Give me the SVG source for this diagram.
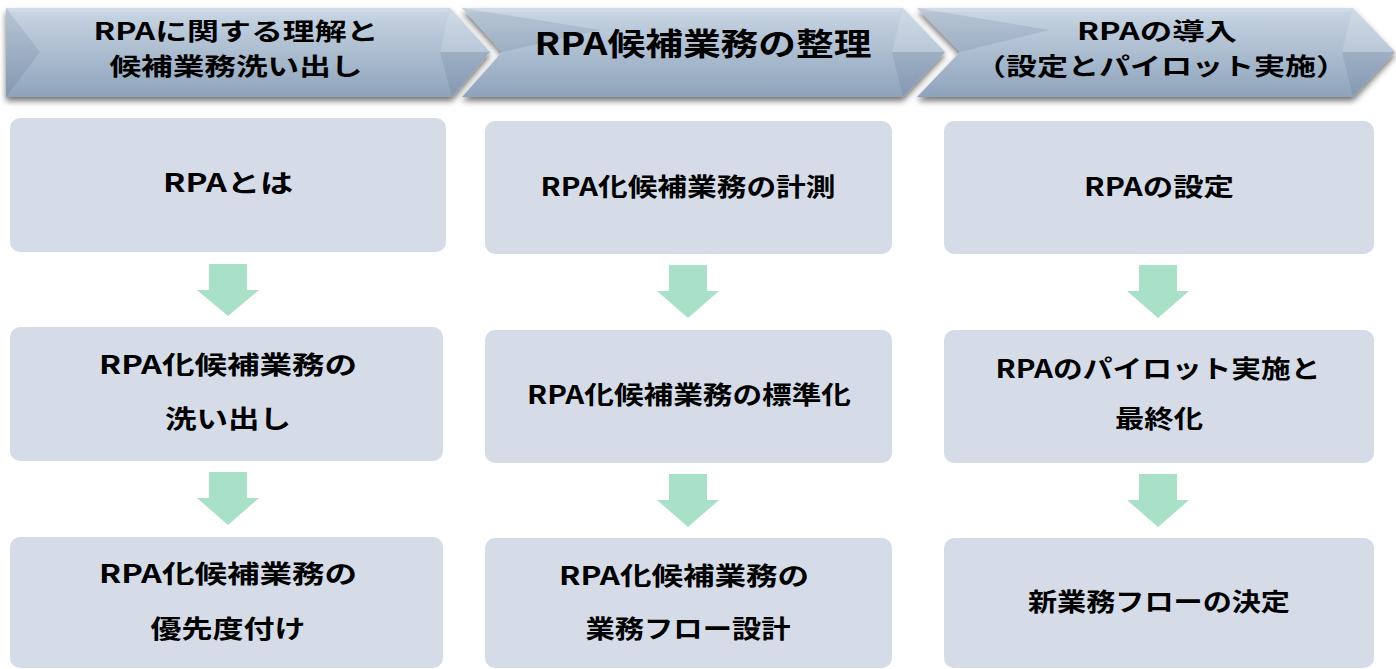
<svg xmlns="http://www.w3.org/2000/svg" width="1396" height="669" viewBox="0 0 1396 669">
<style>
text{font-family:"Noto Sans CJK JP","Noto Sans",sans-serif;font-weight:bold;fill:#000;text-anchor:middle}
.h{font-size:24px}
.h2{font-size:31px}
.b{font-size:25px}
.box{fill:#d5dce8}
.arr{fill:#a8e1c7}
.fl{fill:#ffffff;opacity:0.15}
.fd{fill:#3a4e6a;opacity:0.12}
</style>
<defs>
<linearGradient id="g" x1="0" y1="0" x2="0" y2="1">
<stop offset="0" stop-color="#c9d6e4"/>
<stop offset="0.5" stop-color="#acbdd0"/>
<stop offset="1" stop-color="#8ea3bb"/>
</linearGradient>
<filter id="sh" x="-5%" y="-20%" width="110%" height="150%">
<feGaussianBlur in="SourceAlpha" stdDeviation="3"/>
<feOffset dx="0" dy="4" result="b"/>
<feComponentTransfer><feFuncA type="linear" slope="0.55"/></feComponentTransfer>
<feMerge><feMergeNode/><feMergeNode in="SourceGraphic"/></feMerge>
</filter>
</defs>
<rect width="1396" height="669" fill="#ffffff"/>

<g id="header1">
<polygon points="6,8 450,8 490,52 452,97 6,97" fill="url(#g)" filter="url(#sh)"/>
<polygon class="fd" points="6,8 40,52 6,97"/>
<polygon class="fl" points="450,8 490,52 440,52"/>
<polygon class="fd" points="440,52 490,52 452,97"/>
<polygon class="fl" points="6,8 450,8 446,12 10,12"/>
<text class="h" x="236" y="40" textLength="285" lengthAdjust="spacingAndGlyphs">RPAに関する理解と</text>
<text class="h" x="236" y="75" textLength="253" lengthAdjust="spacingAndGlyphs">候補業務洗い出し</text>
</g>

<g id="header2">
<polygon points="462,8 903,8 945,52 903,97 462,97 502,52" fill="url(#g)" filter="url(#sh)"/>
<polygon class="fd" points="462,8 502,52 600,30"/>
<polygon class="fl" points="903,8 945,52 892,52"/>
<polygon class="fd" points="892,52 945,52 903,97"/>
<polygon class="fl" points="462,8 903,8 899,12 466,12"/>
<text class="h2" x="703" y="55" textLength="337" lengthAdjust="spacingAndGlyphs">RPA候補業務の整理</text>
</g>

<g id="header3">
<polygon points="917,8 1353,8 1395,52 1353,97 917,97 960,52" fill="url(#g)" filter="url(#sh)"/>
<polygon class="fd" points="917,8 960,52 1050,30"/>
<polygon class="fl" points="1353,8 1395,52 1342,52"/>
<polygon class="fd" points="1342,52 1395,52 1353,97"/>
<polygon class="fl" points="917,8 1353,8 1349,12 921,12"/>
<text class="h" x="1157" y="40" textLength="160" lengthAdjust="spacingAndGlyphs">RPAの導入</text>
<text class="h" x="1161" y="75" textLength="372" lengthAdjust="spacingAndGlyphs">（設定とパイロット実施）</text>
</g>

<g id="c1b1"><rect class="box" x="10" y="118" width="436" height="134" rx="10"/>
<text class="b" x="228" y="192" textLength="130" lengthAdjust="spacingAndGlyphs">RPAとは</text></g>
<g id="c1b2"><rect class="box" x="10" y="327" width="433" height="134" rx="10"/>
<text class="b" x="228" y="374" textLength="258" lengthAdjust="spacingAndGlyphs">RPA化候補業務の</text>
<text class="b" x="228" y="428" textLength="126" lengthAdjust="spacingAndGlyphs">洗い出し</text></g>
<g id="c1b3"><rect class="box" x="10" y="537" width="433" height="131" rx="10"/>
<text class="b" x="228" y="583" textLength="258" lengthAdjust="spacingAndGlyphs">RPA化候補業務の</text>
<text class="b" x="228" y="638" textLength="155" lengthAdjust="spacingAndGlyphs">優先度付け</text></g>

<g id="c2b1"><rect class="box" x="485" y="121" width="407" height="133" rx="10"/>
<text class="b" x="688" y="196" textLength="295" lengthAdjust="spacingAndGlyphs">RPA化候補業務の計測</text></g>
<g id="c2b2"><rect class="box" x="485" y="330" width="407" height="133" rx="10"/>
<text class="b" x="689" y="404" textLength="324" lengthAdjust="spacingAndGlyphs">RPA化候補業務の標準化</text></g>
<g id="c2b3"><rect class="box" x="485" y="538" width="407" height="130" rx="10"/>
<text class="b" x="684" y="585" textLength="250" lengthAdjust="spacingAndGlyphs">RPA化候補業務の</text>
<text class="b" x="688" y="638" textLength="205" lengthAdjust="spacingAndGlyphs">業務フロー設計</text></g>

<g id="c3b1"><rect class="box" x="944" y="121" width="430" height="133" rx="10"/>
<text class="b" x="1159" y="196" textLength="150" lengthAdjust="spacingAndGlyphs">RPAの設定</text></g>
<g id="c3b2"><rect class="box" x="944" y="330" width="430" height="133" rx="10"/>
<text class="b" x="1158" y="378" textLength="325" lengthAdjust="spacingAndGlyphs">RPAのパイロット実施と</text>
<text class="b" x="1159" y="428" textLength="88" lengthAdjust="spacingAndGlyphs">最終化</text></g>
<g id="c3b3"><rect class="box" x="944" y="538" width="430" height="130" rx="10"/>
<text class="b" x="1159" y="611" textLength="262" lengthAdjust="spacingAndGlyphs">新業務フローの決定</text></g>

<g id="connectors">
<polygon class="arr" points="209,264 247,264 247,290 259,290 228,316 197,290 209,290"/>
<polygon class="arr" points="209,472 247,472 247,498 259,498 228,525 197,498 209,498"/>
<polygon class="arr" points="669,265 707,265 707,291 719,291 688,318 657,291 669,291"/>
<polygon class="arr" points="669,474 707,474 707,500 719,500 688,527 657,500 669,500"/>
<polygon class="arr" points="1139,265 1177,265 1177,291 1189,291 1158,318 1127,291 1139,291"/>
<polygon class="arr" points="1139,474 1177,474 1177,500 1189,500 1158,527 1127,500 1139,500"/>
</g>
</svg>
